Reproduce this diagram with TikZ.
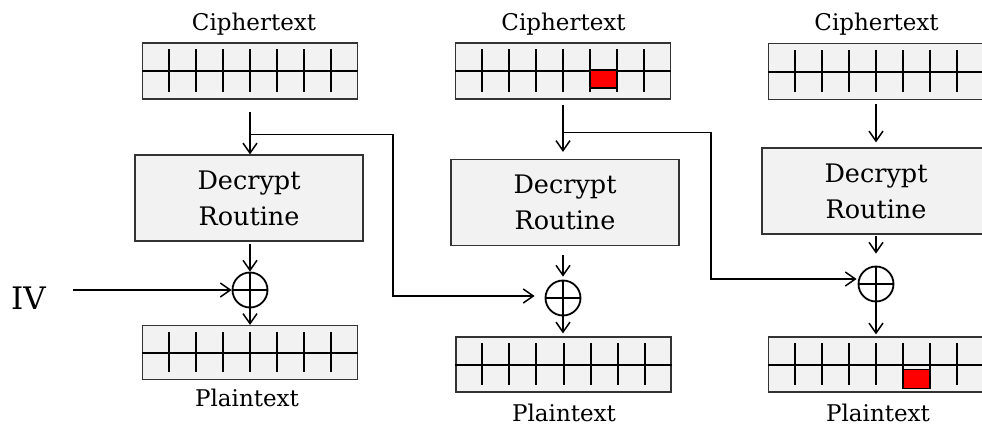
\documentclass[tikz,border=0pt]{standalone}
\usepackage{fontspec}
\setmainfont{DejaVu Serif}
\usetikzlibrary{arrows.meta,calc}
\tikzset{
  blk/.style={draw=black!80, fill=gray!10, line width=1.2pt, minimum width=215pt, minimum height=55pt, inner sep=0pt},
  decbox/.style={draw=black!80, fill=gray!10, line width=1.2pt, minimum width=228pt, minimum height=86pt, inner sep=0pt, align=center, font=\fontsize{25.5}{36}\selectfont},
  xorc/.style={circle, draw=black, line width=1.8pt, minimum size=35pt, inner sep=0pt,
    path picture={\draw[line width=1.8pt] (path picture bounding box.north) -- (path picture bounding box.south) (path picture bounding box.west) -- (path picture bounding box.east);}},
  lbl/.style={font=\fontsize{23}{28}\selectfont, anchor=base, inner sep=0pt},
  conn/.style={line width=1.5pt, -{Straight Barb[length=10pt,width=14pt,line width=1.5pt]}},
  tk/.style={line width=2pt},
  redc/.style={fill=red, draw=black, line width=1.2pt}
}
\newcommand{\drawcells}[1]{%
  \draw[tk] (#1.west) -- (#1.east);
  \foreach \i in {1,...,7}
    \draw[tk] ($(#1.north west)!\i/8!(#1.north east)+(0,7)$) -- ($(#1.south west)!\i/8!(#1.south east)+(0,-8)$);
}
\begin{document}
\begin{tikzpicture}[x=1pt,y=-1pt]
\useasboundingbox (0,0) rectangle (982,426);
\clip (0,0) rectangle (982,426);

% labels
\node[lbl] (ct1) at (254,30.5) {Ciphertext};
\node[lbl] (ct2) at (563.5,30.5) {Ciphertext};
\node[lbl] (ct3) at (876.5,30.5) {Ciphertext};
\node[lbl] (pt1) at (247,406) {Plaintext};
\node[lbl] (pt2) at (564,421) {Plaintext};
\node[lbl] (pt3) at (878,421) {Plaintext};
\node[anchor=base west, inner sep=0pt, font=\fontsize{31}{36}\selectfont] (iv) at (11,309) {IV};

% cipher blocks
\node[blk, minimum height=56pt] (c1) at (250,71) {};
\node[blk, minimum height=56pt] (c2) at (563,71) {};
\node[blk, minimum height=56pt] (c3) at (876,71.5) {};
\drawcells{c1}\drawcells{c2}\drawcells{c3}
\draw[redc] ($(c2.west)!5/8!(c2.east)+(0,-1)$) rectangle ($(c2.west)!6/8!(c2.east)+(0,17)$);

% decrypt boxes
\node[decbox] (d1) at (249,198) {Decrypt\\Routine};
\node[decbox] (d2) at (565,202.5) {Decrypt\\Routine};
\node[decbox] (d3) at (876,191) {Decrypt\\Routine};

% xor
\node[xorc] (x1) at (250,290) {};
\node[xorc] (x2) at (563,298) {};
\node[xorc] (x3) at (876,284) {};

% plain blocks
\node[blk, minimum height=54pt] (p1) at (250,352.5) {};
\node[blk] (p2) at (563.5,364.5) {};
\node[blk] (p3) at (876,364.5) {};
\drawcells{p1}\drawcells{p2}\drawcells{p3}
\draw[redc] ($(p3.west)!5/8!(p3.east)+(0,5)$) rectangle ($(p3.west)!6/8!(p3.east)+(0,24)$);

% connectors: cipher -> decrypt
\draw[conn] ([yshift=-12pt]c1.south) -- (c1.south |- d1.north);
\draw[conn, shorten >=7pt] ([yshift=-5pt]c2.south) -- (c2.south |- d2.north);
\draw[conn, shorten >=5pt] ([yshift=-4pt]c3.south) -- (c3.south |- d3.north);

% feedback branches
\path (c1.south) ++(0,35) coordinate (b1);
\path (c2.south) ++(0,33) coordinate (b2);
\coordinate (t1) at (393,296);
\coordinate (t2) at (711,279);
\draw[conn, shorten >=10pt] (b1) -| (t1) -- (t1 -| x2.west);
\draw[conn, shorten >=1pt] (b2) -| (t2) -- (t2 -| x3.west);

% decrypt -> xor
\draw[conn] ([yshift=-2pt]x1.north |- d1.south) -- (x1.north);
\draw[conn, shorten >=3pt] ([yshift=-9pt]x2.north |- d2.south) -- (x2.north);
\draw[conn, shorten >=12pt] ([yshift=-1pt]x3.north |- d3.south) -- (x3.north);

% IV
\coordinate (ivs) at (73,290);
\draw[conn] (ivs) -- (x1.west);

% xor -> plaintext
\draw[conn] (x1.south) -- (x1.south |- p1.north);
\draw[conn, shorten >=3pt] (x2.south) -- (x2.south |- p2.north);
\draw[conn, shorten >=2pt] (x3.south) -- (x3.south |- p3.north);
\end{tikzpicture}
\end{document}
